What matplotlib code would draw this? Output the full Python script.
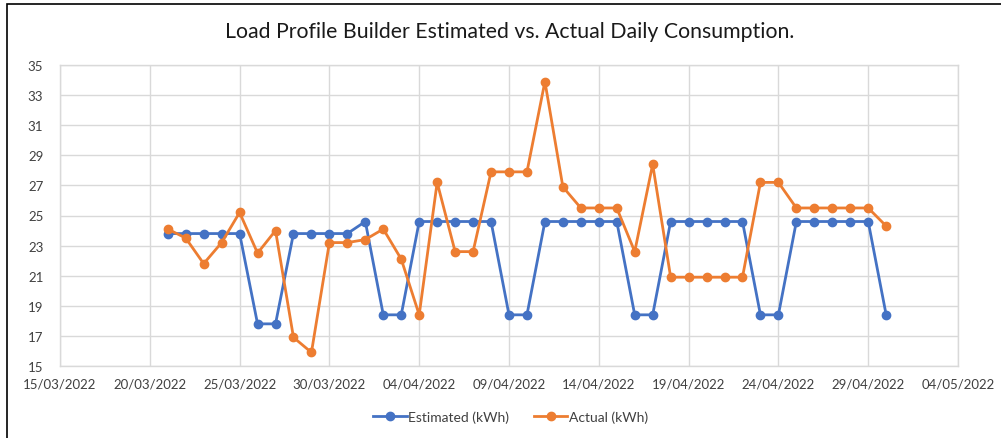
import numpy as np
import pandas as pd
import matplotlib
matplotlib.use("Agg")
from matplotlib import pyplot as plt
import matplotlib.dates as mdates
from matplotlib.patches import Rectangle

""" Load Profile Builder: оценка vs факт, дневное потребление """

dates = pd.date_range("2022-03-21", "2022-04-30", freq="D")

estimated = [23.8, 23.8, 23.8, 23.8, 23.8, 17.8, 17.8, 23.8, 23.8, 23.8,
             23.8, 24.6, 18.4, 18.4, 24.6, 24.6, 24.6, 24.6, 24.6, 18.4,
             18.4, 24.6, 24.6, 24.6, 24.6, 24.6, 18.4, 18.4, 24.6, 24.6,
             24.6, 24.6, 24.6, 18.4, 18.4, 24.6, 24.6, 24.6, 24.6, 24.6,
             18.4]

actual = [24.1, 23.5, 21.8, 23.2, 25.2, 22.5, 24.0, 16.9, 15.9, 23.2,
          23.2, 23.4, 24.1, 22.1, 18.4, 27.2, 22.6, 22.6, 27.9, 27.9,
          27.9, 33.9, 26.9, 25.5, 25.5, 25.5, 22.6, 28.4, 20.9, 20.9,
          20.9, 20.9, 20.9, 27.2, 27.2, 25.5, 25.5, 25.5, 25.5, 25.5,
          24.3]

labels = ["Estimated (kWh)", "Actual (kWh)"]
title = "Load Profile Builder Estimated vs. Actual Daily Consumption."


def main():
    plt.rcParams["font.family"] = ["Lato", "DejaVu Sans"]

    fig = plt.figure(figsize=(10.01, 4.39), dpi=100)
    ax = fig.add_axes([60 / 1001, 72 / 439, 898 / 1001, 301 / 439])

    blue = "#4472C4"
    orange = "#ED7D31"
    ax.plot(dates, estimated, color=blue, lw=2.0, marker="o", ms=6,
            label=labels[0], zorder=3)
    ax.plot(dates, actual, color=orange, lw=2.0, marker="o", ms=6,
            label=labels[1], zorder=3)

    ax.set_xlim(pd.Timestamp("2022-03-15"), pd.Timestamp("2022-05-04"))
    ax.set_ylim(15, 35)
    ax.set_yticks(np.arange(15, 36, 2))
    ticks = pd.date_range("2022-03-15", "2022-05-04", freq="5D")
    ax.set_xticks(ticks)
    ax.xaxis.set_major_formatter(mdates.DateFormatter("%d/%m/%Y"))

    ax.grid(True, color="#d9d9d9", lw=1.0)
    ax.set_axisbelow(True)
    for s in ax.spines.values():
        s.set_color("#d9d9d9")
        s.set_linewidth(1.0)
    ax.tick_params(length=0, labelsize=9.5, colors="#404040", pad=8)
    ax.tick_params(axis="y", pad=12)

    fig.text(0.509, 1 - 32 / 439, title, ha="center", va="center",
             fontsize=15.3, color="#1a1a1a")

    fig.legend(loc="center", bbox_to_anchor=(0.51, 1 - 418 / 439), ncol=2,
               frameon=False, fontsize=10, handlelength=2.4,
               columnspacing=1.8, handletextpad=0.1,
               labelcolor="#404040")

    # рамка диаграммы как в Excel
    fig.add_artist(Rectangle((6.5 / 1001, -0.05), 1.1, 1 - 4.5 / 439 + 0.05,
                             transform=fig.transFigure, fill=False,
                             edgecolor="black", lw=1.2))

    fig.savefig("out.png", dpi=100)


if __name__ == "__main__":
    main()
